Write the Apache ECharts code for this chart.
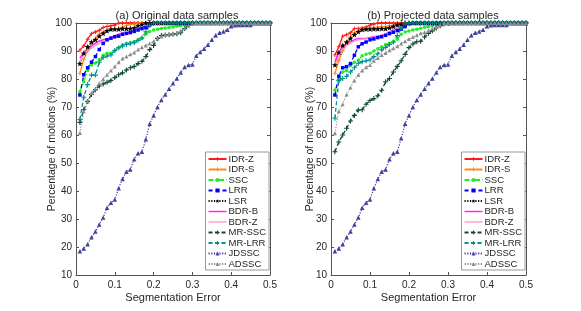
<!DOCTYPE html>
<html>
<head>
<meta charset="utf-8">
<script src="https://cdn.jsdelivr.net/npm/echarts@6/dist/echarts.min.js"></script>
<style>html,body{margin:0;padding:0;background:#fff}#c{width:581px;height:311px}</style>
</head>
<body>
<div id="c"></div>
<script>
const X = [0.01,0.02,0.03,0.04,0.05,0.06,0.07,0.08,0.09,0.10,
0.11,0.12,0.13,0.14,0.15,0.16,0.17,0.18,0.19,0.20,
0.21,0.22,0.23,0.24,0.25,0.26,0.27,0.28,0.29,0.30,
0.31,0.32,0.33,0.34,0.35,0.36,0.37,0.38,0.39,0.40,
0.41,0.42,0.43,0.44,0.45,0.46,0.47,0.48,0.49,0.50];

const NAMES = ['IDR-Z','IDR-S','SSC','LRR','LSR','BDR-B','BDR-Z','MR-SSC','MR-LRR','JDSSC','ADSSC'];
const TITLES = ['(a) Original data samples','(b) Projected data samples'];
const X_TICKS = [0,0.1,0.2,0.3,0.4,0.5];
const Y_TICKS = [10,20,30,40,50,60,70,80,90,100];

// (a) Original data samples
const A_IDRZ = [90.3,91.8,94.2,96.2,96.8,97.4,98.4,98.8,99,99.3,100,100,100,100,100,100,100,100,100,100,100,100,100,100,100,100,100,100,100,100,100,100,100,100,100,100,100,100,100,100,100,100,100,100,100,100,100,100,100,100];
const A_IDRS = [82,87,90,92.5,94.5,96,96.7,97.3,97.6,97.9,98.1,98.5,99.2,99.4,99.6,99.8,100,100,100,100,100,100,100,100,100,100,100,100,100,100,100,100,100,100,100,100,100,100,100,100,100,100,100,100,100,100,100,100,100,100];
const A_SSC = [75.5,79,83,85,85.7,87,88.5,89.2,89.2,90.2,91.2,92.2,92.8,93,93.3,94,94.5,96,97,97.5,97.8,98,98.2,98.4,98.6,98.8,99,99.3,99.6,100,100,100,100,100,100,100,100,100,100,100,100,100,100,100,100,100,100,100,100,100];
const A_LRR = [74.3,81.5,84,86,88,90.5,92.7,94,94.6,95.1,95.3,96,96.3,96.6,97,97.5,98,98.3,99.3,100,100,100,100,100,100,100,100,100,100,100,100,100,100,100,100,100,100,100,100,100,100,100,100,100,100,100,100,100,100,100];
const A_LSR = [85.5,89.2,91.5,93.2,94,95.3,96.3,97.2,97.8,97.8,97.8,98,98,98,98.2,99,99.5,100,100,100,100,100,100,100,100,100,100,100,100,100,100,100,100,100,100,100,100,100,100,100,100,100,100,100,100,100,100,100,100,100];
const A_BDRB = [87.5,89.5,90.7,91.8,92.8,93.6,94,94.3,94.7,95.5,96,96.3,96.3,96.5,97.2,97.8,98.3,99,99.6,100,100,100,100,100,100,100,100,100,100,100,100,100,100,100,100,100,100,100,100,100,100,100,100,100,100,100,100,100,100,100];
const A_BDRZ = [86.5,88.5,90,91,92,92.8,93.4,93.8,94.2,94.8,95.3,95.7,96,96.2,96.8,97.4,98,98.6,99.3,100,100,100,100,100,100,100,100,100,100,100,100,100,100,100,100,100,100,100,100,100,100,100,100,100,100,100,100,100,100,100];
const A_MRSSC = [64.5,69,72,74.5,76.2,77.5,78.2,78.8,79.5,80.5,81.5,82.2,83.2,84,84.5,85.5,86.3,88,90.5,92,94.5,95.5,95.7,95.8,96,96.2,96.5,98,99.3,100,100,100,100,100,100,100,100,100,100,100,100,100,100,100,100,100,100,100,100,100];
const A_MRLRR = [65.5,73.5,78,81.4,81.4,86,87.7,88.2,88.6,90.2,91.2,91.8,92.3,92.6,93,93.8,94.7,96.9,99.2,100,100,100,100,100,100,100,100,100,100,100,100,100,100,100,100,100,100,100,100,100,100,100,100,100,100,100,100,100,100,100];
const A_JDSSC = [18.5,19.5,21,23.5,25.5,28,30.5,34,35.8,37,41,44.3,46.9,47.7,51.3,53.5,54,58.5,64,67,70,72.5,74.5,76.5,78.5,80.2,82.3,84.3,85,85.2,88.3,89.6,90.8,92.2,94,95.6,96.5,97,97.6,98.8,99.2,99.3,99.3,99.3,99.3,100,100,100,100,100];
const A_ADSSC = [60.7,68.5,72,75,76.5,78.5,80,81.5,83,84.5,86,87.3,88,88.8,89.5,90.5,91.3,92,92.7,93.5,94.5,95.2,95.8,96,96.2,96.5,97.3,98.1,99,99.6,100,100,100,100,100,100,100,100,100,100,100,100,100,100,100,100,100,100,100,100];

// (b) Projected data samples
const B_IDRZ = [88.6,91.5,95.3,95.8,96.5,98,98.1,98.2,98.6,99.2,99.6,100,100,100,100,100,100,100,100,100,100,100,100,100,100,100,100,100,100,100,100,100,100,100,100,100,100,100,100,100,100,100,100,100,100,100,100,100,100,100];
const B_IDRS = [82,86.5,90,93,95.3,96.5,97.2,98,98.2,98.3,98.4,98.5,98.7,98.8,99,99.2,99.3,99.6,100,100,100,100,100,100,100,100,100,100,100,100,100,100,100,100,100,100,100,100,100,100,100,100,100,100,100,100,100,100,100,100];
const B_SSC = [76,79.2,82.5,83,84.8,86,86.8,88.3,88.8,89.2,90,90.8,91.5,92.3,92.8,93.3,94.2,96,96.8,97.1,97.5,97.8,98.1,98.5,98.7,99,99.3,100,100,100,100,100,100,100,100,100,100,100,100,100,100,100,100,100,100,100,100,100,100,100];
const B_LRR = [74.3,81,84,84.4,85.5,88.5,91.5,92.6,93.2,94,94.3,94.8,95.1,95.6,96.2,96.7,97.3,97.8,98.7,99.8,100,100,100,100,100,100,100,100,100,100,100,100,100,100,100,100,100,100,100,100,100,100,100,100,100,100,100,100,100,100];
const B_LSR = [85,89.5,92,93.2,94.5,95.8,96.9,97.6,97.8,97.8,97.9,97.9,98,98,98.3,98.8,99.3,99.6,100,100,100,100,100,100,100,100,100,100,100,100,100,100,100,100,100,100,100,100,100,100,100,100,100,100,100,100,100,100,100,100];
const B_BDRB = [86.2,89.5,91.3,92.5,93.3,94,94.5,94.5,94.5,94.8,95.1,95.3,95.6,96,96.8,97.5,98.1,98.8,99.4,100,100,100,100,100,100,100,100,100,100,100,100,100,100,100,100,100,100,100,100,100,100,100,100,100,100,100,100,100,100,100];
const B_BDRZ = [84.5,88,90.5,92,92.8,93.5,94,94.2,94.3,94.5,94.8,95,95.4,95.8,96.5,97.2,98,98.6,99.2,100,100,100,100,100,100,100,100,100,100,100,100,100,100,100,100,100,100,100,100,100,100,100,100,100,100,100,100,100,100,100];
const B_MRSSC = [54,57.5,60,62.4,65,67,68.9,69,71,72.3,73,74,76,79,80.2,82.5,84.5,86.5,88.8,91.2,92.5,93.3,93.5,95,96.3,97.2,98.2,99,99.6,100,100,100,100,100,100,100,100,100,100,100,100,100,100,100,100,100,100,100,100,100];
const B_MRLRR = [66,79.5,80.2,81,82.5,84,85.6,86.2,86.5,86.8,88,89,90.4,91.3,92.3,93.2,95.5,98,100,100,100,100,100,100,100,100,100,100,100,100,100,100,100,100,100,100,100,100,100,100,100,100,100,100,100,100,100,100,100,100];
const B_JDSSC = [18.5,19.5,21,23.5,25.5,28,30.5,34,35.8,37,41,44.3,46.9,47.7,51.3,53.5,54,58.8,64,67,70,72.5,74.5,76.5,78.5,80.2,82.3,84.3,85,85.2,88.3,89.6,90.8,92.2,94,95.6,96.5,97,97.6,98.8,99.2,99.3,99.3,99.3,99.3,100,100,100,100,100];
const B_ADSSC = [60.6,68.5,71,74.5,77,79.5,81.4,83,84.2,85,86.5,87.5,88.6,89.3,90.3,91,91.7,92.7,93.5,94.3,95,95.6,96.3,96.7,97.2,98,98.6,99.3,100,100,100,100,100,100,100,100,100,100,100,100,100,100,100,100,100,100,100,100,100,100];

const PANEL_A = [A_IDRZ,A_IDRS,A_SSC,A_LRR,A_LSR,A_BDRB,A_BDRZ,A_MRSSC,A_MRLRR,A_JDSSC,A_ADSSC];
const PANEL_B = [B_IDRZ,B_IDRS,B_SSC,B_LRR,B_LSR,B_BDRB,B_BDRZ,B_MRSSC,B_MRLRR,B_JDSSC,B_ADSSC];

// styles
const PLUS = 'path://M-0.22,-1H0.22V-0.22H1V0.22H0.22V1H-0.22V0.22H-1V-0.22H-0.22Z';
const STAR = 'path://M0,-1L0.24,-0.33L0.95,-0.31L0.38,0.13L0.59,0.81L0,0.4L-0.59,0.81L-0.38,0.13L-0.95,-0.31L-0.24,-0.33Z';
const LINEICON = 'path://M0,0H20V1.6H0Z';
const STYLES = [
  {color:'#ff1a1a', type:'solid', symbol:PLUS, size:4, width:1.3},
  {color:'#ff8a1f', type:'solid', symbol:PLUS, size:4, width:1.3},
  {color:'#22ee22', type:[5,2,1.5,2], symbol:'circle', size:3.5, width:1.3},
  {color:'#0000ff', type:[4,3], symbol:'rect', size:3.5, width:1.3},
  {color:'#000000', type:[1.2,1.5], symbol:STAR, size:6, width:1.2},
  {color:'#ff22ff', type:'solid', symbol:'none', size:0, width:1.5},
  {color:'#ff9fbf', type:'solid', symbol:'none', size:0, width:1.5},
  {color:'#0f4a36', type:[4,2.5], symbol:PLUS, size:5, width:1.3},
  {color:'#009090', type:[4,2.5], symbol:PLUS, size:5, width:1.3},
  {color:'#4040a0', type:[1.2,1.5], symbol:'triangle', size:4.5, width:1.2},
  {color:'#8c8c8c', type:[1.2,1.5], symbol:'triangle', size:4, width:1.1}
];

const FONT = 'Liberation Sans, Arial, Helvetica, sans-serif';
const AX = '#555555';
const TXT = '#262626';

function mkSeries(panel, gi) {
  return panel.map((ys, k) => {
    const s = STYLES[k];
    return {
      name: NAMES[k], type: 'line', xAxisIndex: gi*2, yAxisIndex: gi*2,
      data: X.map((x, i) => [x, ys[i]]),
      symbol: s.symbol, symbolSize: s.size, showSymbol: s.symbol !== 'none', showAllSymbol: true,
      symbolKeepAspect: true,
      lineStyle: {color: s.color, width: s.width, type: s.type},
      itemStyle: {color: s.color},
      animation: false, clip: false, z: 2
    };
  });
}

function xAxes(gi) {
  return [
    {type:'value', gridIndex:gi, min:0, max:0.5, interval:0.1, position:'bottom',
     name:'Segmentation Error', nameLocation:'middle', nameGap:17, nameMoveOverlap:false,
     nameTextStyle:{fontSize:11, color:TXT, fontFamily:FONT},
     axisLine:{show:true, onZero:false, lineStyle:{color:AX, width:1}},
     axisTick:{show:true, inside:true, length:3, lineStyle:{color:AX}},
     axisLabel:{fontSize:10, color:TXT, fontFamily:FONT, margin:5,
       formatter: v => X_TICKS.indexOf(Math.round(v*10)/10) >= 0 ? String(Math.round(v*10)/10) : ''},
     splitLine:{show:false}},
    {type:'value', gridIndex:gi, min:0, max:0.5, interval:0.1, position:'top',
     axisLine:{show:true, onZero:false, lineStyle:{color:AX, width:1}},
     axisTick:{show:true, inside:true, length:3, lineStyle:{color:AX}},
     axisLabel:{show:false}, splitLine:{show:false}}
  ];
}
function yAxes(gi, gap) {
  return [
    {type:'value', gridIndex:gi, min:10, max:100, interval:10, position:'left',
     name:'Percentage of motions (%)', nameLocation:'middle', nameGap: gap, nameMoveOverlap:false,
     nameTextStyle:{fontSize:10.5, color:TXT, fontFamily:FONT},
     axisLine:{show:true, onZero:false, lineStyle:{color:AX, width:1}},
     axisTick:{show:true, inside:true, length:3, lineStyle:{color:AX}},
     axisLabel:{fontSize:10, color:TXT, fontFamily:FONT, margin:4,
       formatter: v => Y_TICKS.indexOf(v) >= 0 ? String(v) : ''},
     splitLine:{show:false}},
    {type:'value', gridIndex:gi, min:10, max:100, interval:10, position:'right',
     axisLine:{show:true, onZero:false, lineStyle:{color:AX, width:1}},
     axisTick:{show:true, inside:true, length:3, lineStyle:{color:AX}},
     axisLabel:{show:false}, splitLine:{show:false}}
  ];
}

function legend(right) {
  return {
    orient:'vertical', right: right, bottom: 41,
    data: NAMES.map((n, k) => STYLES[k].symbol === 'none' ? {name:n, icon:LINEICON} : {name:n}),
    itemWidth: 18, itemHeight: 5, itemGap: 0.5,
    padding:[2,3,1,2], backgroundColor:'#ffffff', borderColor:'#999999', borderWidth:1,
    textStyle:{fontSize:9.5, lineHeight:10, color:TXT, fontFamily:FONT, padding:[0,0,0,-3]},
    selectedMode:false
  };
}

const chart = echarts.init(document.getElementById('c'), null, {renderer:'canvas'});
chart.setOption({
  animation:false,
  backgroundColor:'#ffffff',
  title: [
    {text:TITLES[0], left:172, top:5, textAlign:'center', textStyle:{fontSize:11, fontWeight:'normal', color:TXT, fontFamily:FONT}},
    {text:TITLES[1], left:428, top:5, textAlign:'center', textStyle:{fontSize:11, fontWeight:'normal', color:TXT, fontFamily:FONT}}
  ],
  grid: [
    {left:76, right:311, top:23, bottom:36},
    {left:331, right:55, top:23, bottom:36}
  ],
  xAxis: xAxes(0).concat(xAxes(1)),
  yAxis: yAxes(0, 18).concat(yAxes(1, 15)),
  legend: [legend(312), legend(56)],
  series: mkSeries(PANEL_A, 0).concat(mkSeries(PANEL_B, 1))
});
</script>
</body>
</html>
